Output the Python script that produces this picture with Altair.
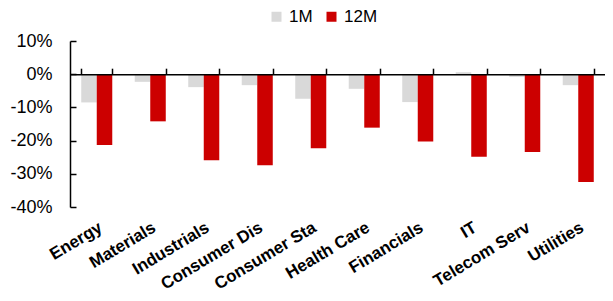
import altair as alt
import pandas as pd

sectors = ["Energy", "Materials", "Industrials", "Consumer Dis", "Consumer Sta",
           "Health Care", "Financials", "IT", "Telecom Serv", "Utilities"]
m1 = [-8.5, -2.3, -3.9, -3.3, -7.4, -4.4, -8.4, 0.6, -0.8, -3.3]
m12 = [-21.3, -14.2, -25.9, -27.4, -22.3, -16.1, -20.3, -24.9, -23.4, -32.5]
series = ["1M", "12M"]
colors = ["#D9D9D9", "#CC0000"]
y_ticks = [10, 0, -10, -20, -30, -40]
y_domain = [-40, 10]

rows = []
for s, a, b in zip(sectors, m1, m12):
    rows.append({"Sector": s, "Period": series[0], "Return": a})
    rows.append({"Sector": s, "Period": series[1], "Return": b})
df = pd.DataFrame(rows)

W, H = 535, 166
FONT = "Liberation Sans"
zero_off = H * y_domain[1] / (y_domain[1] - y_domain[0])

x_scale = alt.Scale(domain=sectors, paddingInner=0.42, paddingOuter=0.21)
y_scale = alt.Scale(domain=y_domain, nice=False, zero=False)

bars = alt.Chart(df).mark_bar().encode(
    x=alt.X("Sector:N", scale=x_scale, sort=sectors, title=None,
            axis=alt.Axis(orient="bottom", domain=False, ticks=False, tickSize=0,
                          grid=False,
                          labelAngle=-31, labelAlign="right", labelBaseline="top",
                          labelFont=FONT, labelFontSize=17, labelFontWeight="bold",
                          labelColor="black", labelPadding=12, labelOverlap=False)),
    xOffset=alt.XOffset("Period:N", sort=series,
                        scale=alt.Scale(domain=series, paddingInner=0, paddingOuter=0)),
    y=alt.Y("Return:Q", scale=y_scale, title=None,
            axis=alt.Axis(orient="left", values=y_ticks, domain=False, ticks=False,
                          tickSize=0, grid=False, labelExpr="datum.value + '%'",
                          labelFont=FONT, labelFontSize=18, labelColor="black",
                          labelPadding=18)),
    color=alt.Color("Period:N", sort=series,
                    scale=alt.Scale(domain=series, range=colors),
                    legend=alt.Legend(orient="none", legendX=198, legendY=-33,
                                      direction="horizontal", title=None,
                                      symbolType="square", symbolSize=100,
                                      symbolStrokeWidth=0, labelFont=FONT,
                                      labelFontSize=17, labelColor="black",
                                      labelOffset=4, columnPadding=10)),
)

axes_layer = alt.Chart(df).mark_point(opacity=0).encode(
    x=alt.X("Sector:N", scale=x_scale, sort=sectors, title=None,
            axis=alt.Axis(orient="top", offset=-zero_off, labels=False, grid=False,
                          domainColor="black", domainWidth=1.5, tickColor="black",
                          tickWidth=1.5, tickSize=6, tickBand="extent", zindex=1)),
    y=alt.Y("Return:Q", scale=y_scale, title=None,
            axis=alt.Axis(orient="right", offset=-W, labels=False, values=y_ticks,
                          domainColor="black", domainWidth=1.5, tickColor="black",
                          tickWidth=1.5, tickSize=6, grid=False, zindex=1)),
)

chart = alt.layer(bars, axes_layer).resolve_axis(
    x="independent", y="independent"
).properties(
    width=W, height=H,
    autosize=alt.AutoSizeParams(type="none"),
    padding={"left": 62, "top": 33, "right": 0, "bottom": 86},
).configure(font=FONT, background="white").configure_view(
    stroke="transparent", strokeWidth=0
).configure_axis(grid=False)

chart.save("out.html", embed_options={"renderer": "svg", "actions": False})
